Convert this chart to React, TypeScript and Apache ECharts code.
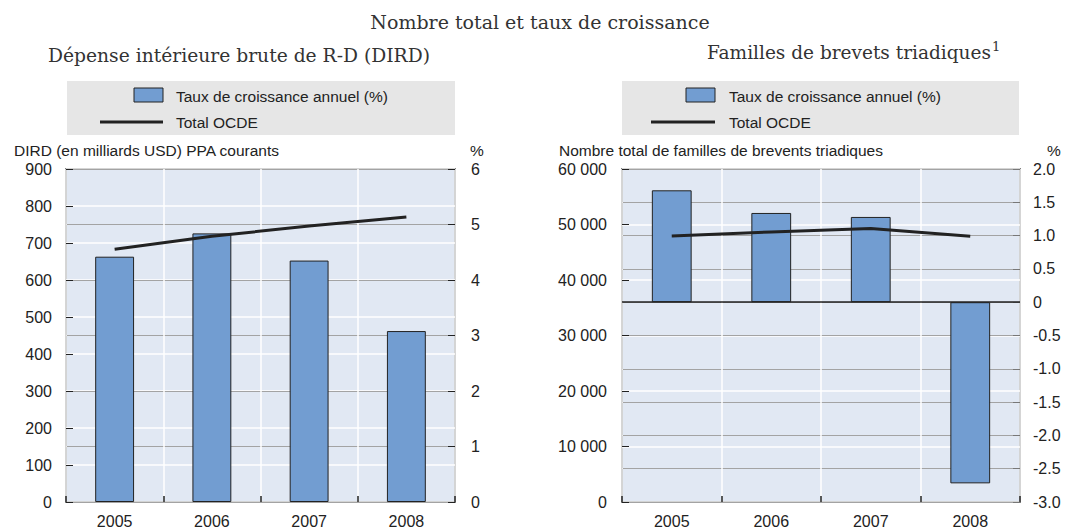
import React, { useEffect, useRef } from "react";
import * as echarts from "echarts";

const years = ["2005", "2006", "2007", "2008"];
const dirdGrowth = [4.42, 4.84, 4.35, 3.08];
const dirdTotal = [683, 718, 746, 770];
const patentGrowth = [1.68, 1.34, 1.28, -2.72];
const patentTotal = [47950, 48650, 49300, 47900];

const mainTitle = "Nombre total et taux de croissance";
const leftTitle = "Dépense intérieure brute de R-D (DIRD)";
const rightTitle = "Familles de brevets triadiques";
const leftAxisName = "DIRD (en milliards USD) PPA courants";
const rightAxisName = "Nombre total de familles de brevents triadiques";
const barLegend = "Taux de croissance annuel (%)";
const lineLegend = "Total OCDE";

const SANS = '"Liberation Sans Narrow", "Arial Narrow", "Liberation Sans", sans-serif';
const SERIF = '"DejaVu Serif", serif';
const BAR = "#729dd1";
const DARK = "#222222";
const PLOT_BG = "#e1e8f3";
const LEGEND_BG = "#e6e6e6";
const LBL = 15.5;
const TICK = 16;

const fmtThousands = (v: number) => String(v).replace(/\B(?=(\d{3})+(?!\d))/g, " ");
const fmtPct = (v: number) => (v === 0 ? "0" : v.toFixed(1));

function legendGraphics(boxX: number, boxW: number, swatchX: number, lineX: number, textX: number) {
  return [
    { type: "rect", shape: { x: boxX, y: 81, width: boxW, height: 54 }, style: { fill: LEGEND_BG }, z: 0 },
    { type: "rect", shape: { x: swatchX, y: 88, width: 29, height: 14 }, style: { fill: BAR, stroke: DARK, lineWidth: 1 }, z: 1 },
    { type: "text", x: textX, y: 96, style: { text: barLegend, font: `${LBL}px ${SANS}`, fill: DARK, textVerticalAlign: "middle", verticalAlign: "middle" }, z: 1 },
    { type: "line", shape: { x1: lineX, y1: 122, x2: swatchX + 29, y2: 122 }, style: { stroke: DARK, lineWidth: 3 }, z: 1 },
    { type: "text", x: textX, y: 122, style: { text: lineLegend, font: `${LBL}px ${SANS}`, fill: DARK, textVerticalAlign: "middle", verticalAlign: "middle" }, z: 1 },
  ];
}

function valueAxis(opts: any) {
  return {
    type: "value",
    gridIndex: opts.gridIndex,
    position: opts.position,
    min: opts.min,
    max: opts.max,
    interval: opts.interval,
    axisLine: { show: false },
    axisTick: { show: true, inside: true, length: 7, lineStyle: { color: opts.tickColor, width: 1 } },
    axisLabel: { color: DARK, fontFamily: SANS, fontSize: TICK, margin: opts.margin, formatter: opts.formatter },
    splitLine: { show: true, lineStyle: { color: opts.splitColor, width: opts.splitWidth } },
  };
}

function catAxis(gridIndex: number) {
  return {
    type: "category",
    gridIndex,
    data: years,
    boundaryGap: true,
    axisLine: { show: false },
    axisTick: { show: true, inside: true, length: 6, lineStyle: { color: DARK, width: 1.5 } },
    axisLabel: { color: DARK, fontFamily: SANS, fontSize: TICK, margin: 11 },
    splitLine: { show: true, lineStyle: { color: "#ffffff", width: 1.5 } },
  };
}

export default function App() {
  const ref = useRef<HTMLDivElement>(null);
  useEffect(() => {
    if (!ref.current) return;
    const chart = echarts.init(ref.current, null, { renderer: "svg" });
    const gridCommon = { top: 169, height: 334, show: true, backgroundColor: PLOT_BG, borderColor: DARK, borderWidth: 1.5, containLabel: false };
    chart.setOption({
      animation: false,
      backgroundColor: "#ffffff",
      grid: [
        { ...gridCommon, left: 66, width: 389 },
        { ...gridCommon, left: 622, width: 398 },
      ],
      xAxis: [catAxis(0), catAxis(1)],
      yAxis: [
        valueAxis({ gridIndex: 0, position: "left", min: 0, max: 900, interval: 100, tickColor: DARK, margin: 14, splitColor: "#ffffff", splitWidth: 1.5 }),
        valueAxis({ gridIndex: 0, position: "right", min: 0, max: 6, interval: 1, tickColor: DARK, margin: 16, splitColor: "#a3a3a3", splitWidth: 1 }),
        valueAxis({ gridIndex: 1, position: "left", min: 0, max: 60000, interval: 10000, tickColor: DARK, margin: 15, splitColor: "#ffffff", splitWidth: 1.5, formatter: fmtThousands }),
        valueAxis({ gridIndex: 1, position: "right", min: -3, max: 2, interval: 0.5, tickColor: "#777777", margin: 13, splitColor: "#a3a3a3", splitWidth: 1, formatter: fmtPct }),
      ],
      series: [
        {
          type: "bar", name: barLegend, xAxisIndex: 0, yAxisIndex: 1, data: dirdGrowth, barWidth: "40%",
          itemStyle: { color: BAR, borderColor: DARK, borderWidth: 1 },
        },
        {
          type: "line", name: lineLegend, xAxisIndex: 0, yAxisIndex: 0, data: dirdTotal, symbol: "none",
          lineStyle: { color: DARK, width: 3 }, z: 5,
        },
        {
          type: "bar", name: barLegend, xAxisIndex: 1, yAxisIndex: 3, data: patentGrowth, barWidth: "40%",
          itemStyle: { color: BAR, borderColor: DARK, borderWidth: 1 },
          markLine: {
            silent: true, symbol: "none", label: { show: false },
            lineStyle: { color: DARK, width: 1.5, type: "solid" },
            data: [{ yAxis: 0 }],
          },
        },
        {
          type: "line", name: lineLegend, xAxisIndex: 1, yAxisIndex: 2, data: patentTotal, symbol: "none",
          lineStyle: { color: DARK, width: 3 }, z: 5,
        },
      ],
      graphic: [
        { type: "text", x: 540, y: 22, style: { text: mainTitle, font: `19px ${SERIF}`, fill: "#333333", textAlign: "center", align: "center", textVerticalAlign: "middle", verticalAlign: "middle" } },
        { type: "text", x: 48, y: 55, style: { text: leftTitle, font: `18.7px ${SERIF}`, fill: "#333333", textVerticalAlign: "middle", verticalAlign: "middle" } },
        {
          type: "text", x: 707, y: 52,
          style: {
            text: rightTitle + "{sup|1}", font: `18.5px ${SERIF}`, fill: "#333333", textVerticalAlign: "middle", verticalAlign: "middle",
            rich: { sup: { fontSize: 13, fontFamily: SERIF, fill: "#333333", padding: [0, 0, 11, 1] } },
          },
        },
        ...legendGraphics(67, 388, 134, 100, 176),
        ...legendGraphics(622, 397, 686, 651, 729),
        { type: "text", x: 14, y: 150, style: { text: leftAxisName, font: `${LBL}px ${SANS}`, fill: DARK, textVerticalAlign: "middle", verticalAlign: "middle" } },
        { type: "text", x: 470, y: 150, style: { text: "%", font: `${LBL}px ${SANS}`, fill: DARK, textVerticalAlign: "middle", verticalAlign: "middle" } },
        { type: "text", x: 559, y: 150, style: { text: rightAxisName, font: `${LBL}px ${SANS}`, fill: DARK, textVerticalAlign: "middle", verticalAlign: "middle" } },
        { type: "text", x: 1047, y: 150, style: { text: "%", font: `${LBL}px ${SANS}`, fill: DARK, textVerticalAlign: "middle", verticalAlign: "middle" } },
      ],
    });
    return () => chart.dispose();
  }, []);
  return <div ref={ref} style={{ position: "absolute", left: 0, top: 0, width: 1069, height: 529 }} />;
}
